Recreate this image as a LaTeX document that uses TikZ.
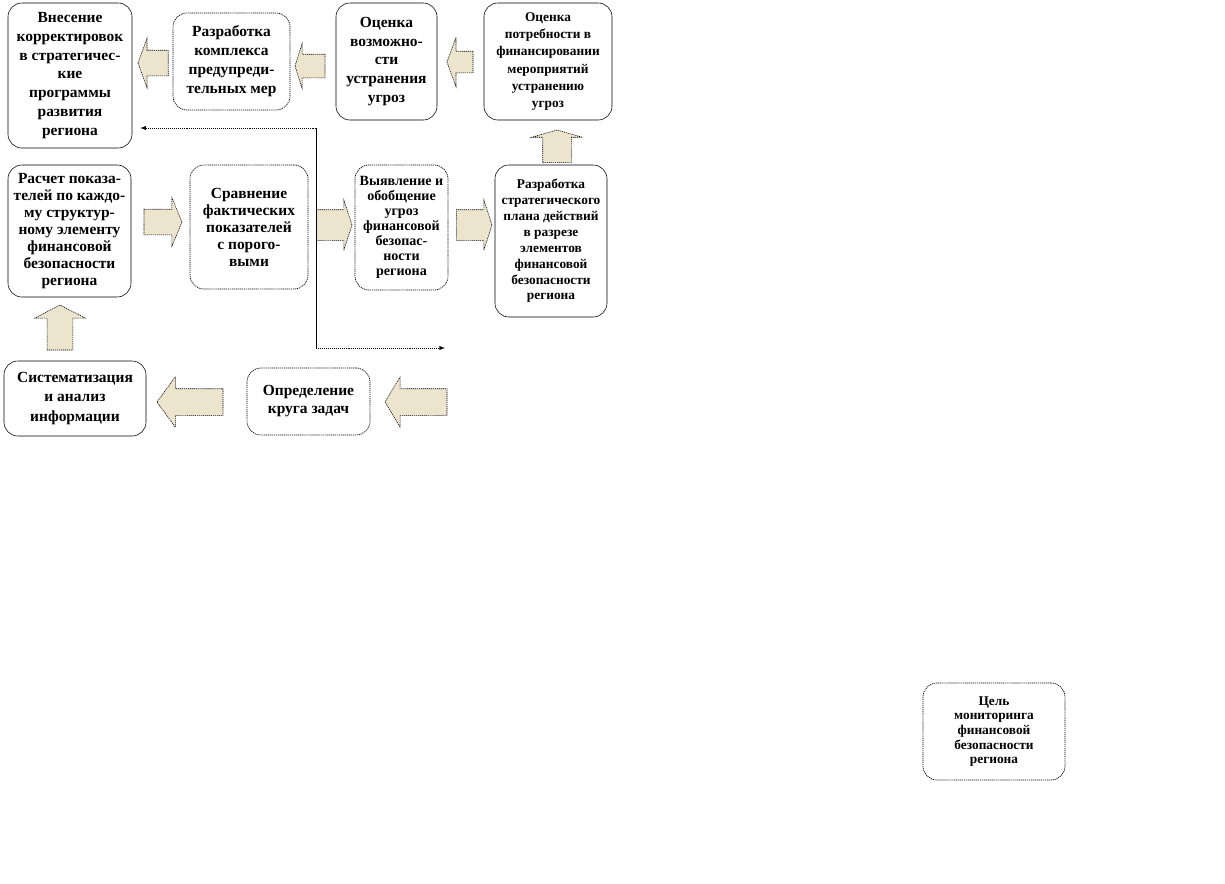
\documentclass[tikz,border=0pt]{standalone}
\usepackage{fontspec}
\setmainfont{Liberation Serif}
\usetikzlibrary{calc,arrows,shapes.arrows}

\definecolor{arrowfill}{RGB}{236,228,204}

\begin{document}
\begin{tikzpicture}[x=0.025cm,y=-0.025cm,
    block/.style={draw, rounded corners=0.35cm, align=center, inner sep=1pt, fill=white},
    dotblock/.style={block, dash pattern=on 0.8pt off 0.6pt, line width=0.5pt},
    fsz/.style 2 args={font=\bfseries\fontsize{#1}{#2}\selectfont},
    barrow/.style={single arrow, draw, dash pattern=on 0.8pt off 0.6pt, fill=arrowfill, inner sep=#1, outer sep=0pt, single arrow head indent=0pt, anchor=tip},
    barrow/.default=0.15cm]
    \useasboundingbox (0,0) rectangle (1225,883);
    % top row
    \node[block, minimum width=3.1cm, minimum height=3.625cm, fsz={11}{13.3}] (vnesenie) at (70,75.5) {Внесение\\корректировок\\в стратегичес-\\кие\\программы\\развития\\региона};
    \node[dotblock, minimum width=2.925cm, minimum height=2.425cm, fsz={11}{13.5}] (kompleks) at (231.5,61.5) {Разработка\\комплекса\\предупреди-\\тельных мер};
    \node[block, minimum width=2.525cm, minimum height=2.925cm, fsz={11}{13.3}] (vozmozh) at (386.5,61.5) {Оценка\\возможно-\\сти\\устранения\\угроз};
    \node[block, minimum width=3.2cm, minimum height=2.925cm, fsz={9.5}{12.3}] (potreb) at (548,61.5) {Оценка\\потребности в\\финансировании\\мероприятий\\устранению\\угроз};
    % middle row
    \node[block, minimum width=3.075cm, minimum height=3.3cm, fsz={11}{12.1}] (raschet) at (69.5,231) {Расчет показа-\\телей по каждо-\\му структур-\\ному элементу\\финансовой\\безопасности\\региона};
    \node[dotblock, minimum width=2.95cm, minimum height=3.1cm, fsz={11}{12.1}] (sravn) at (249,227) {Сравнение\\фактических\\показателей\\с порого-\\выми};
    \node[dotblock, minimum width=2.325cm, minimum height=3.125cm, fsz={10}{10.7}] (vyyavl) at (401.5,227.5) {Выявление и\\обобщение\\угроз\\финансовой\\безопас-\\ности\\региона};
    \node[block, minimum width=2.8cm, minimum height=3.8cm, fsz={9.5}{11.3}] (plan) at (551,241) {Разработка\\стратегического\\плана действий\\в разрезе\\элементов\\финансовой\\безопасности\\региона};
    % bottom row
    \node[block, minimum width=3.55cm, minimum height=1.875cm, fsz={11}{14.2}] (sistem) at (75,398.5) {Систематизация\\и анализ\\информации};
    \node[dotblock, minimum width=3.075cm, minimum height=1.675cm, fsz={11}{12.8}] (krug) at (308.5,401.5) {Определение\\круга задач};
    \node[dotblock, minimum width=3.55cm, minimum height=2.425cm, fsz={9.5}{10.4}] (cel) at (994,731.5) {Цель\\мониторинга\\финансовой\\безопасности\\региона};
    % block arrows
    \node[barrow=0.3125cm, minimum height=0.7cm, single arrow head extend=0.3cm, single arrow tip angle=140, shape border rotate=180] (a21) at (138,63) {};
    \node[barrow=0.2875cm, minimum height=0.75cm, single arrow head extend=0.275cm, single arrow tip angle=145, shape border rotate=180] (a32) at (295,66) {};
    \node[barrow=0.2625cm, minimum height=0.65cm, single arrow head extend=0.35cm, single arrow tip angle=140, shape border rotate=180] (a43) at (447,62) {};
    \node[barrow=0.35cm, minimum height=0.725cm, single arrow head extend=0.275cm, single arrow tip angle=148, shape border rotate=90] (a84) at (557,130) {};
    \node[barrow=0.3125cm, minimum height=0.95cm, single arrow head extend=0.2875cm, single arrow tip angle=135] (a56) at (182,222) {};
    \node[barrow=0.375cm, minimum height=0.675cm, single arrow head extend=0.25cm, single arrow tip angle=144] (a67) at (352,225) {};
    \node[barrow=0.375cm, minimum height=0.75cm, single arrow head extend=0.25cm, single arrow tip angle=144] (a78) at (492,225) {};
    \node[barrow=0.3125cm, minimum height=1.125cm, single arrow head extend=0.3125cm, single arrow tip angle=125, shape border rotate=90] (a95) at (60,305) {};
    \node[barrow=0.325cm, minimum height=1.65cm, single arrow head extend=0.3cm, single arrow tip angle=108, shape border rotate=180] (a109) at (157,402) {};
    \node[barrow=0.325cm, minimum height=1.55cm, single arrow head extend=0.3cm, single arrow tip angle=118, shape border rotate=180] (a1110) at (385,402) {};
    % feedback line
    \coordinate (ctop) at (316,128);
    \coordinate (cbot) at (316,348);
    \coordinate (cend) at (445,348);
    \draw (ctop) -- (cbot);
    \draw[densely dotted, -latex] (ctop) -- ($(vnesenie.east |- ctop)+(8,0)$);
    \draw[densely dotted, -latex] (cbot) -- (cend);
\end{tikzpicture}
\end{document}
